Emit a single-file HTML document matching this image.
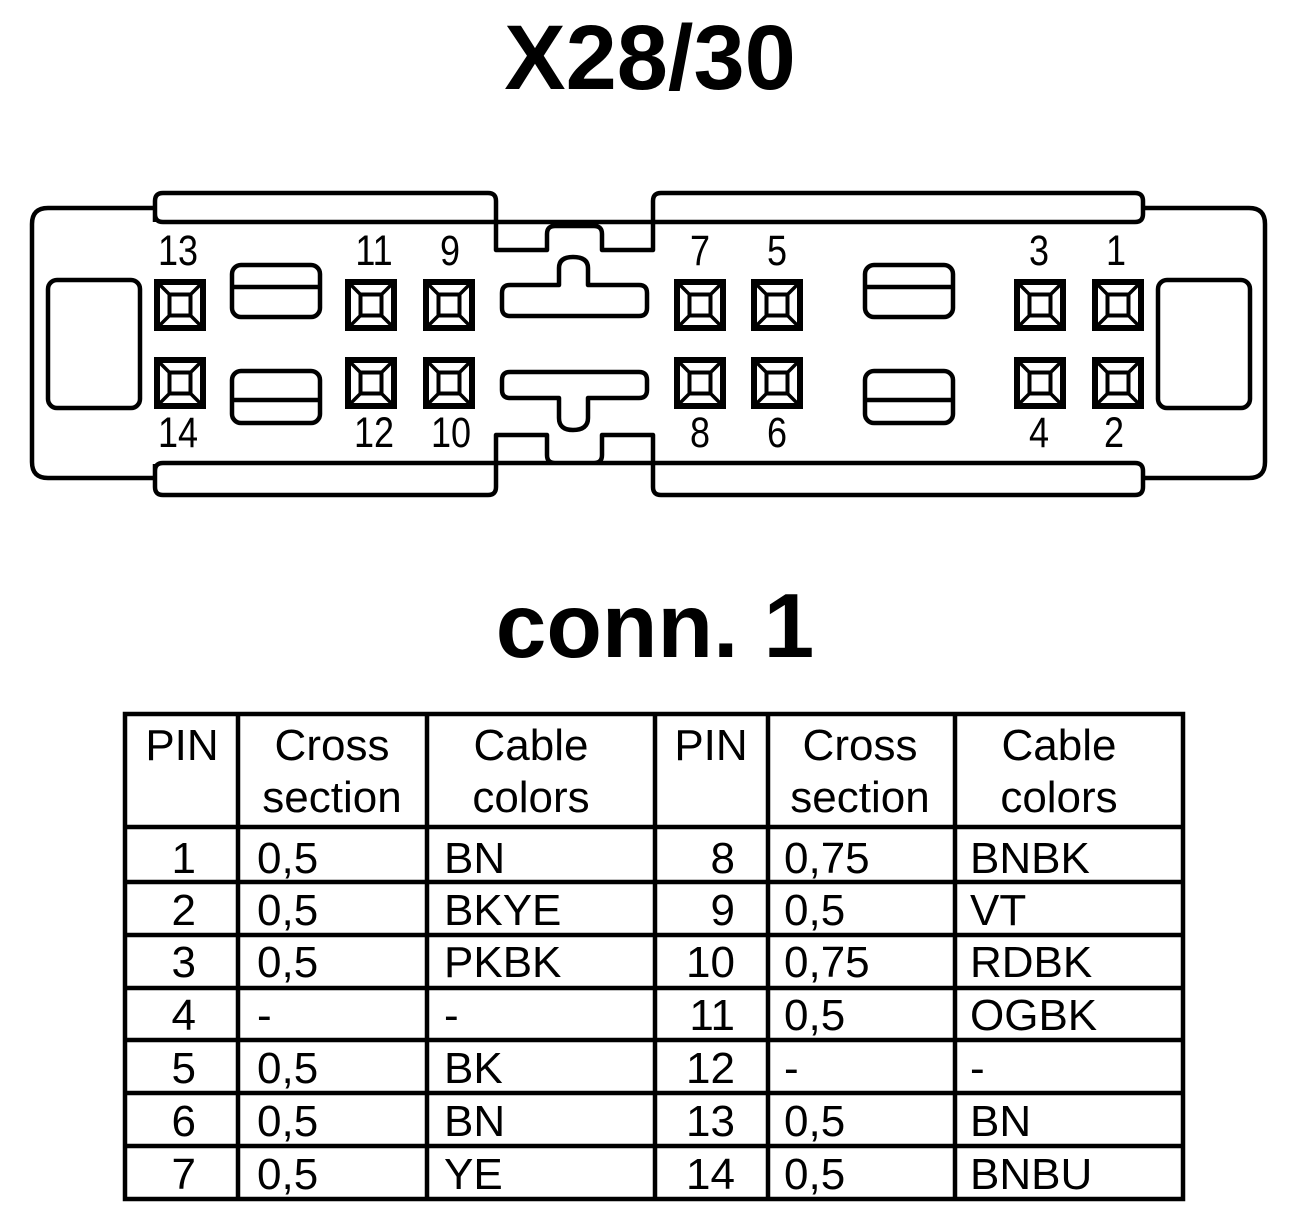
<!DOCTYPE html>
<html><head><meta charset="utf-8"><style>
html,body{margin:0;padding:0;background:#fff;}
svg{display:block;}
text{font-family:"Liberation Sans",sans-serif;fill:#000;}
</style></head><body>
<svg width="1312" height="1228" viewBox="0 0 1312 1228" xmlns="http://www.w3.org/2000/svg">
<defs>
<g id="pin">
<rect x="3" y="3" width="46" height="46" fill="none" stroke="#000" stroke-width="6"/>
<rect x="15.5" y="15.5" width="21" height="21" fill="none" stroke="#000" stroke-width="4"/>
<path d="M5 5L16 16M47 5L36 16M5 47L16 36M47 47L36 36" stroke="#000" stroke-width="3.5"/>
</g>
<g id="slot">
<rect x="0" y="0" width="88" height="52" rx="9" fill="none" stroke="#000" stroke-width="4.5"/>
</g>
</defs>
<text x="650" y="89" font-size="92" font-weight="bold" text-anchor="middle">X28/30</text>

<g fill="none" stroke="#000" stroke-width="4.5" stroke-linejoin="round">
<path d="M155 208H48Q32 208 32 224V462Q32 478 48 478H155"/>
<path d="M1143 208H1249Q1265 208 1265 224V462Q1265 478 1249 478H1143"/>
<path d="M155 222V201Q155 193 163 193H488Q496 193 496 201V250H547V234Q547 226 555 226H594Q602 226 602 234V250H653V201Q653 193 661 193H1135Q1143 193 1143 201V214Q1143 222 1135 222H163Q155 222 155 214"/>
<path d="M155 464V487Q155 495 163 495H488Q496 495 496 487V435H547V455Q547 463 555 463H594Q602 463 602 455V435H653V487Q653 495 661 495H1135Q1143 495 1143 487V471Q1143 463 1135 463H163Q155 463 155 471"/>
<rect x="48" y="280" width="92" height="128" rx="9"/>
<rect x="1158" y="280" width="92" height="128" rx="9"/>
<path d="M510 285H559V268Q559 257 573 257Q588 257 588 268V285H639Q647 285 647 293V308Q647 316 639 316H510Q502 316 502 308V293Q502 285 510 285Z"/>
<path d="M510 398H559V418Q559 430 573 430Q588 430 588 418V398H639Q647 398 647 390V380Q647 372 639 372H510Q502 372 502 380V390Q502 398 510 398Z"/>
</g>
<g>
<use href="#slot" x="232" y="265"/><line x1="232" y1="287" x2="320" y2="287" stroke="#000" stroke-width="4.5"/>
<use href="#slot" x="232" y="371"/><line x1="232" y1="400" x2="320" y2="400" stroke="#000" stroke-width="4.5"/>
<use href="#slot" x="865" y="265"/><line x1="865" y1="287" x2="953" y2="287" stroke="#000" stroke-width="4.5"/>
<use href="#slot" x="865" y="371"/><line x1="865" y1="400" x2="953" y2="400" stroke="#000" stroke-width="4.5"/>
</g>
<use href="#pin" x="154" y="279"/><use href="#pin" x="154" y="357"/>
<use href="#pin" x="345" y="279"/><use href="#pin" x="345" y="357"/>
<use href="#pin" x="423" y="279"/><use href="#pin" x="423" y="357"/>
<use href="#pin" x="674" y="279"/><use href="#pin" x="674" y="357"/>
<use href="#pin" x="751" y="279"/><use href="#pin" x="751" y="357"/>
<use href="#pin" x="1014" y="279"/><use href="#pin" x="1014" y="357"/>
<use href="#pin" x="1092" y="279"/><use href="#pin" x="1092" y="357"/>
<g font-size="36" text-anchor="middle" transform="scale(1,1.18)">
<text x="178" y="224.6">13</text><text x="374" y="224.6">11</text><text x="450" y="224.6">9</text>
<text x="700" y="224.6">7</text><text x="777" y="224.6">5</text><text x="1039" y="224.6">3</text><text x="1116" y="224.6">1</text>
<text x="178" y="378.8">14</text><text x="374" y="378.8">12</text><text x="451" y="378.8">10</text>
<text x="700" y="378.8">8</text><text x="777" y="378.8">6</text><text x="1039" y="378.8">4</text><text x="1114" y="378.8">2</text>
</g>

<text x="655" y="657" font-size="91" font-weight="bold" text-anchor="middle">conn. 1</text>

<g stroke="#000" stroke-width="4.5" fill="none">
<rect x="125" y="714" width="1058" height="485"/>
<path d="M238 714V1199M427 714V1199M655 714V1199M768 714V1199M955 714V1199"/>
<path d="M125 827H1183M125 882H1183M125 935H1183M125 988H1183M125 1040H1183M125 1093H1183M125 1146H1183"/>
</g>
<g font-size="44">
<g text-anchor="middle">
<text x="182" y="760">PIN</text><text x="332" y="760">Cross</text><text x="332" y="812">section</text>
<text x="531" y="760">Cable</text><text x="531" y="812">colors</text>
<text x="711" y="760">PIN</text><text x="860" y="760">Cross</text><text x="860" y="812">section</text>
<text x="1059" y="760">Cable</text><text x="1059" y="812">colors</text>
</g>
<g text-anchor="end">
<text x="196" y="873">1</text><text x="196" y="925">2</text><text x="196" y="977">3</text><text x="196" y="1030">4</text><text x="196" y="1083">5</text><text x="196" y="1136">6</text><text x="196" y="1189">7</text>
<text x="735" y="873">8</text><text x="735" y="925">9</text><text x="735" y="977">10</text><text x="735" y="1030">11</text><text x="735" y="1083">12</text><text x="735" y="1136">13</text><text x="735" y="1189">14</text>
</g>
<text x="257" y="873">0,5</text><text x="257" y="925">0,5</text><text x="257" y="977">0,5</text><text x="257" y="1030">-</text><text x="257" y="1083">0,5</text><text x="257" y="1136">0,5</text><text x="257" y="1189">0,5</text>
<text x="444" y="873">BN</text><text x="444" y="925">BKYE</text><text x="444" y="977">PKBK</text><text x="444" y="1030">-</text><text x="444" y="1083">BK</text><text x="444" y="1136">BN</text><text x="444" y="1189">YE</text>
<text x="784" y="873">0,75</text><text x="784" y="925">0,5</text><text x="784" y="977">0,75</text><text x="784" y="1030">0,5</text><text x="784" y="1083">-</text><text x="784" y="1136">0,5</text><text x="784" y="1189">0,5</text>
<text x="970" y="873">BNBK</text><text x="970" y="925">VT</text><text x="970" y="977">RDBK</text><text x="970" y="1030">OGBK</text><text x="970" y="1083">-</text><text x="970" y="1136">BN</text><text x="970" y="1189">BNBU</text>
</g>
</svg>
</body></html>
